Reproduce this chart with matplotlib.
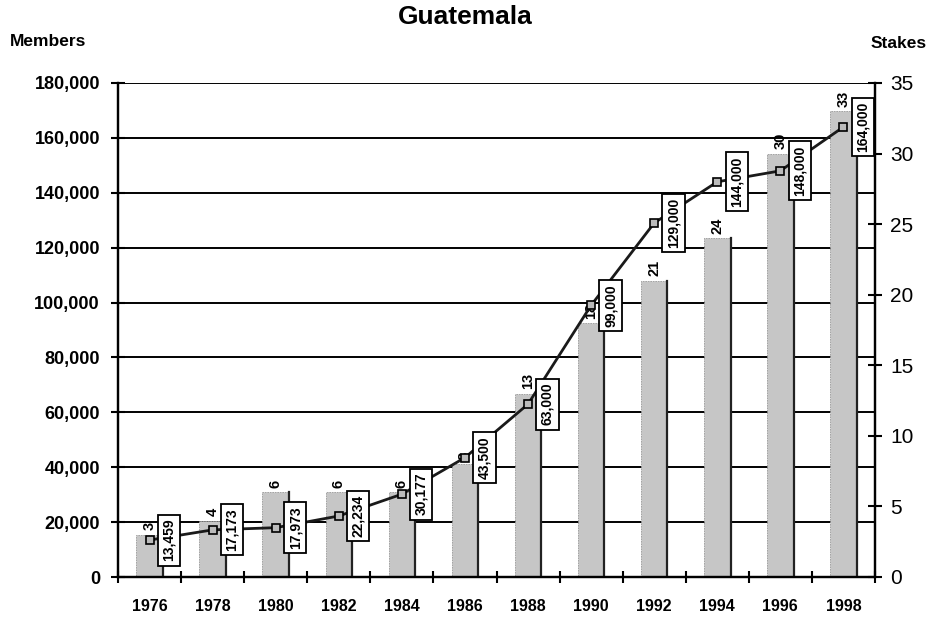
import matplotlib
matplotlib.use('agg')

import matplotlib.pyplot as plt
from matplotlib.ticker import FuncFormatter, MultipleLocator, FixedLocator

plt.rcParams['font.family'] = ['Liberation Sans', 'DejaVu Sans']

# data
years = ['1976', '1978', '1980', '1982', '1984', '1986',
         '1988', '1990', '1992', '1994', '1996', '1998']
members = [13459, 17173, 17973, 22234, 30177, 43500,
           63000, 99000, 129000, 144000, 148000, 164000]
stakes = [3, 4, 6, 6, 6, 8, 13, 18, 21, 24, 30, 33]

x = list(range(len(years)))

fig = plt.figure(figsize=(9.31, 6.19), dpi=100)
ax = fig.add_axes([118 / 931, 1 - 577 / 619, (875 - 118) / 931, (577 - 83) / 619])
ax2 = ax.twinx()
ax.set_zorder(2)
ax2.set_zorder(1)
ax.patch.set_visible(False)

# horizontal gridlines (members scale), drawn under the bars
grid_vals = list(range(20000, 180001, 20000))
ax2.hlines(grid_vals, 0, 1, transform=ax.get_yaxis_transform(),
           colors='black', linewidth=1.4, zorder=1)

# stakes bars
bars = ax2.bar(x, stakes, width=0.42, color='#c6c6c6', edgecolor='#9a9a9a',
               linewidth=0.6, linestyle=(0, (2, 1)), zorder=2)
for b in bars:
    ax2.plot([b.get_x() + b.get_width()] * 2, [0, b.get_height()],
             color='#222222', linewidth=1.6, zorder=3)
for xi, s in zip(x, stakes):
    ax2.annotate(str(s), (xi, s), xytext=(0, 3), textcoords='offset points',
                 ha='center', va='bottom', rotation=90, fontsize=10.5,
                 fontweight='bold', zorder=4)

# members line
ax.plot(x, members, color='#1a1a1a', linewidth=2, marker='s', markersize=6,
        markerfacecolor='#bbbbbb', markeredgecolor='black', markeredgewidth=1.2,
        zorder=5)
for xi, m in zip(x, members):
    ax.annotate('{:,}'.format(m), (xi, m), xytext=(14, 0), textcoords='offset points',
                ha='center', va='center', rotation=90, fontsize=10, fontweight='bold',
                bbox=dict(boxstyle='square,pad=0.3', facecolor='white',
                          edgecolor='black', linewidth=1.3),
                zorder=6)

ax.set_xlim(-0.5, len(years) - 0.5)
ax.set_ylim(0, 180000)
ax2.set_ylim(0, 35)

ax.yaxis.set_major_locator(MultipleLocator(20000))
ax.yaxis.set_major_formatter(FuncFormatter(lambda v, p: '{:,}'.format(int(v))))
ax2.yaxis.set_major_locator(MultipleLocator(5))

ax.set_xticks(x)
ax.set_xticklabels(years)
ax.xaxis.set_minor_locator(FixedLocator([i - 0.5 for i in range(len(years) + 1)]))
ax.tick_params(axis='x', which='major', length=0, pad=16, labelsize=11.5)
ax.tick_params(axis='x', which='minor', direction='inout', length=9, width=1.5)
for t in ax.get_xticklabels():
    t.set_fontweight('bold')

ax.tick_params(axis='y', direction='inout', length=10, width=1.5, pad=8, labelsize=13)
for t in ax.get_yticklabels():
    t.set_fontweight('bold')
ax2.tick_params(axis='y', direction='inout', length=10, width=1.5, pad=6, labelsize=15)

for a in (ax, ax2):
    for side in ('left', 'right', 'bottom'):
        a.spines[side].set_linewidth(1.6)
    a.spines['top'].set_visible(False)

fig.text(0.5, 1 - 17 / 619, 'Guatemala', ha='center', va='center',
         fontsize=19, fontweight='bold')
fig.text(10 / 931, 1 - 42 / 619, 'Members', ha='left', va='center',
         fontsize=12.5, fontweight='bold')
fig.text(927 / 931, 1 - 43 / 619, 'Stakes', ha='right', va='center',
         fontsize=12.5, fontweight='bold')

fig.savefig('out.png', dpi=100)
